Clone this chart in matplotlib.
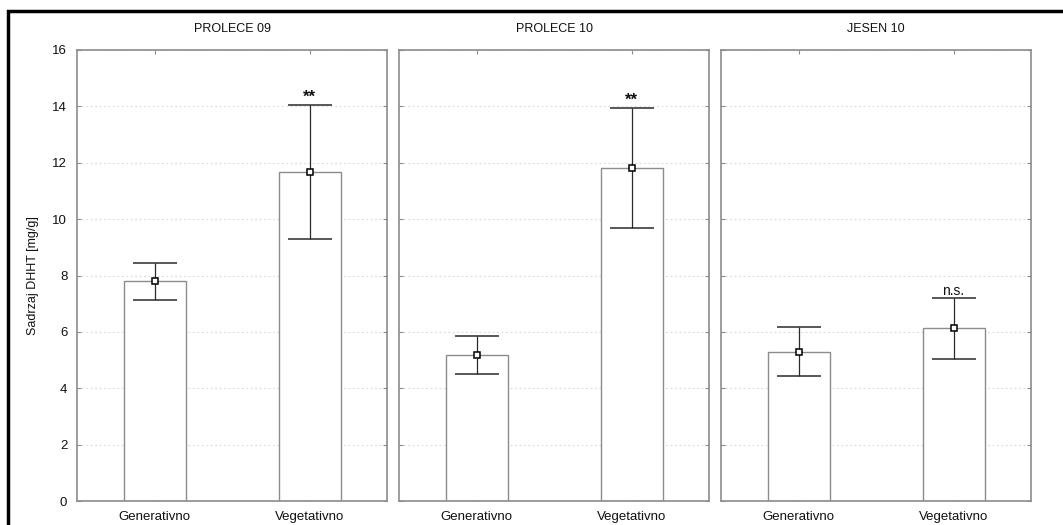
import matplotlib
matplotlib.use("Agg")
import matplotlib.pyplot as plt
from matplotlib.patches import Rectangle

plt.rcParams["font.family"] = ["Liberation Sans", "DejaVu Sans"]

# data
panels     = ["PROLECE 09", "PROLECE 10", "JESEN 10"]
categories = ["Generativno", "Vegetativno"]
means      = [[7.8, 11.68], [5.18, 11.8], [5.3, 6.14]]
err_low    = [[7.12, 9.3], [4.5, 9.68], [4.43, 5.02]]
err_high   = [[8.45, 14.05], [5.86, 13.95], [6.18, 7.2]]
labels     = [[None, "**"], [None, "**"], [None, "n.s."]]
y_ticks    = [0, 2, 4, 6, 8, 10, 12, 14, 16]

SPINE = "#8c8c8c"
DARK  = "#2a2a2a"

W, H = 1063, 525
fig = plt.figure(figsize=(W / 100, H / 100), dpi=100)
fig.patch.set_facecolor("white")

lefts = [77, 399, 721]
ax_w, ax_b, ax_t = 310, 501, 50

for i, title in enumerate(panels):
    ax = fig.add_axes([lefts[i] / W, 1 - ax_b / H, ax_w / W, (ax_b - ax_t) / H])
    x = list(range(len(categories)))
    ax.bar(x, means[i], width=0.4, color="white", edgecolor=SPINE,
           linewidth=1.0, zorder=2)
    lo = [m - l for m, l in zip(means[i], err_low[i])]
    hi = [h - m for m, h in zip(means[i], err_high[i])]
    ax.errorbar(x, means[i], yerr=[lo, hi], fmt="s", color=DARK,
                ecolor=DARK, elinewidth=0.9, capsize=16, capthick=0.9,
                markersize=5, markerfacecolor="white", markeredgecolor="black",
                markeredgewidth=1.1, zorder=3)
    for j, lab in enumerate(labels[i]):
        if lab:
            ax.annotate(lab, (x[j], err_high[i][j]), xytext=(0, 0),
                        textcoords="offset points", ha="center", va="bottom",
                        fontsize=10 if lab != "**" else 12, color="#111111",
                        fontweight="bold" if lab == "**" else "normal")

    ax.set_xlim(-0.5, 1.5)
    ax.set_ylim(0, 16)
    ax.set_yticks(y_ticks)
    ax.set_xticks(x)
    ax.set_xticklabels(categories)
    ax.yaxis.grid(True, linestyle=(0, (1.5, 2.5)), color="#d8d8d8", linewidth=0.8)
    ax.set_axisbelow(True)
    ax.tick_params(direction="in", length=3, color=SPINE, labelsize=9.5,
                   top=True, right=True, pad=7, labelcolor="#111111")
    ax.tick_params(axis="x", pad=7)
    if i > 0:
        ax.set_yticklabels([])
    else:
        ax.set_ylabel("Sadrzaj DHHT [mg/g]", fontsize=9, labelpad=10,
                      color="#111111")
    for sp in ax.spines.values():
        sp.set_edgecolor(SPINE)
        sp.set_linewidth(1.2)
    ax.set_title(title, fontsize=9, pad=13, color="#111111")

# black frame on top and left
fig.add_artist(Rectangle((7.5 / W, -0.1), 1.2, 1 - 10.5 / H + 0.1,
                         transform=fig.transFigure, fill=False,
                         edgecolor="black", linewidth=2.5, clip_on=False))

fig.savefig("out.png", dpi=100, facecolor="white")
